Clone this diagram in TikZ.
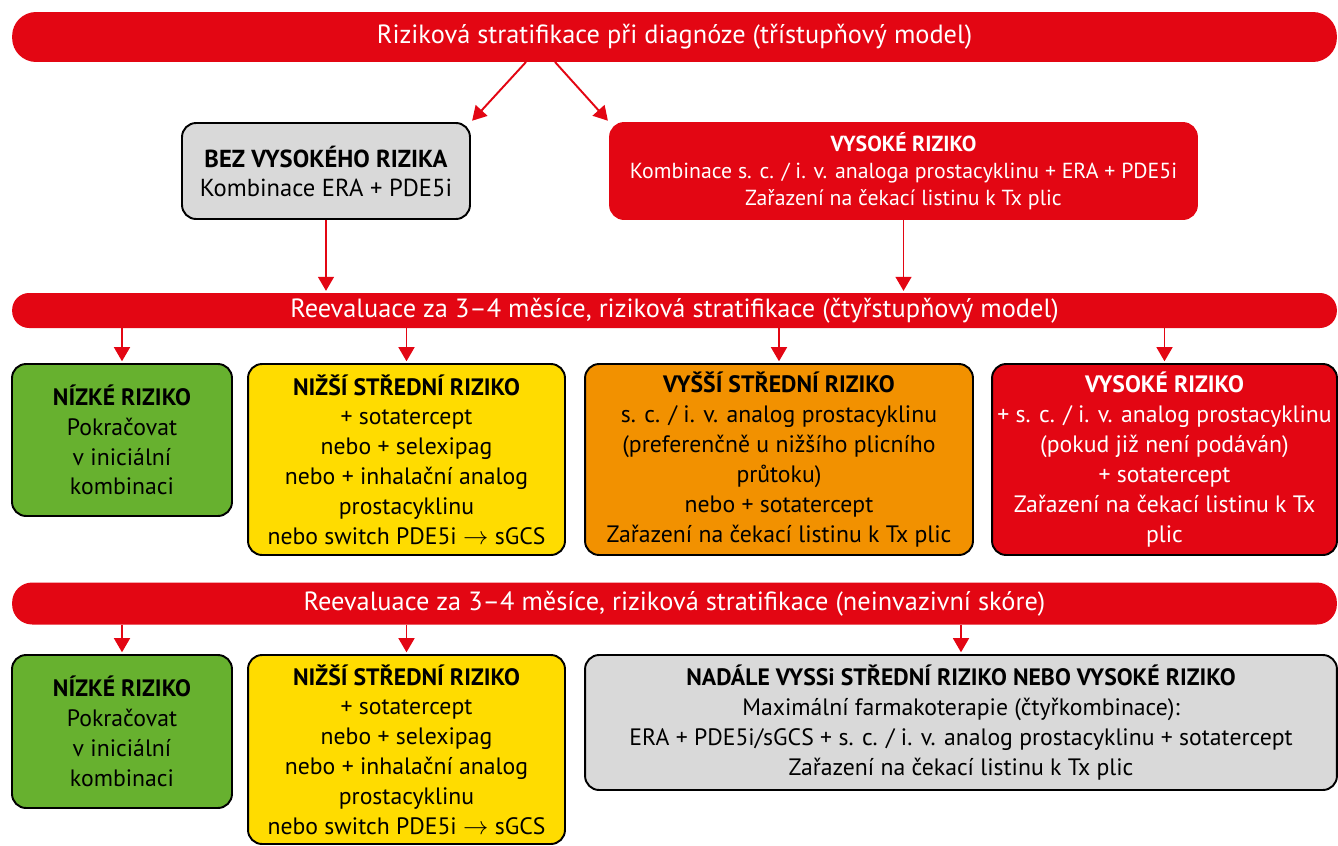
\documentclass[tikz,border=0pt]{standalone}
\usepackage{fontspec}
\setmainfont{PT Sans}
\usetikzlibrary{arrows.meta, positioning, calc}

\definecolor{rred}{HTML}{E30613}
\definecolor{rgreen}{HTML}{67B12F}
\definecolor{ryellow}{HTML}{FFDC00}
\definecolor{rorange}{HTML}{F29100}
\definecolor{rgray}{HTML}{D9D9D9}

\begin{document}
\begin{tikzpicture}[x=0.02cm, y=-0.02cm,
  bar/.style={fill=rred, text=white, inner sep=0pt, minimum width=26.5cm,
    font=\fontsize{15}{18}\selectfont},
  box/.style={draw=black, line width=1.1pt, rounded corners=8pt, align=center,
    inner sep=0pt, font=\fontsize{13.5}{17}\selectfont},
  arr/.style={draw=rred, line width=1.1pt, shorten >=1pt,
    -{Triangle[length=8pt, width=9pt]}}]
\useasboundingbox (0,0) rectangle (1338,845);

% Diagnosis
\node[bar, minimum height=1cm, rounded corners=0.48cm] (diag) at (674.5,37)
  {Riziková stratifikace při diagnóze (třístupňový model)};
\node[box, fill=rgray, minimum width=5.76cm, minimum height=1.92cm,
  font=\fontsize{14}{16.5}\selectfont] (bez) at (326,171)
  {\textbf{BEZ VYSOKÉHO RIZIKA}\\Kombinace ERA + PDE5i};
\node[box, draw=rred, fill=rred, text=white, minimum width=11.74cm, minimum height=1.92cm,
  font=\fontsize{12.4}{15.5}\selectfont] (vys) at (903.5,171)
  {\textbf{VYSOKÉ RIZIKO}\\Kombinace s. c. / i. v. analoga prostacyklinu + ERA + PDE5i\\Zařazení na čekací listinu k Tx plic};

\coordinate (d1) at (526,62);
\coordinate (d2) at (555,62);
\draw[arr] (d1) -- (bez.north east);
\draw[arr] (d2) -- (vys.north west);

% First reevaluation
\node[bar, minimum height=0.7cm, rounded corners=0.34cm] (reev1) at (674.5,310.5)
  {Reevaluace za 3--4 měsíce, riziková stratifikace (čtyřstupňový model)};
\draw[arr] (bez) -- (bez |- reev1.north);
\draw[arr] (vys) -- (vys |- reev1.north);

\node[box, fill=rgreen, minimum width=4.4cm, minimum height=3.04cm] (nizke1) at (122,440)
  {\textbf{NÍZKÉ RIZIKO}\\Pokračovat\\v iniciální\\kombinaci};
\node[box, fill=ryellow, minimum width=6.34cm, minimum height=3.82cm] (nizsi1) at (406.5,459.5)
  {\textbf{NIŽŠÍ STŘEDNÍ RIZIKO}\\+ sotatercept\\nebo + selexipag\\nebo + inhalační analog\\prostacyklinu\\nebo switch PDE5i $\rightarrow$ sGCS};
\node[box, fill=rorange, minimum width=7.76cm, minimum height=3.82cm] (vyssi1) at (779,459.5)
  {\textbf{VYŠŠÍ STŘEDNÍ RIZIKO}\\s. c. / i. v. analog prostacyklinu\\(preferenčně u nižšího plicního\\průtoku)\\nebo + sotatercept\\Zařazení na čekací listinu k Tx plic};
\node[box, fill=rred, text=white, minimum width=6.9cm, minimum height=3.82cm] (vysoke1) at (1164.5,459.5)
  {\textbf{VYSOKÉ RIZIKO}\\+ s. c. / i. v. analog prostacyklinu\\(pokud již není podáván)\\+ sotatercept\\Zařazení na čekací listinu k Tx\\plic};

\foreach \n in {nizke1, nizsi1, vyssi1, vysoke1}
  \draw[arr] (\n |- reev1.south) -- (\n.north);

% Second reevaluation
\node[bar, minimum height=0.84cm, rounded corners=0.4cm] (reev2) at (674.5,603.5)
  {Reevaluace za 3--4 měsíce, riziková stratifikace (neinvazivní skóre)};

\node[box, fill=rgreen, minimum width=4.4cm, minimum height=3.06cm] (nizke2) at (122,731.5)
  {\textbf{NÍZKÉ RIZIKO}\\Pokračovat\\v iniciální\\kombinaci};
\node[box, fill=ryellow, minimum width=6.34cm, minimum height=3.78cm] (nizsi2) at (406.5,749.5)
  {\textbf{NIŽŠÍ STŘEDNÍ RIZIKO}\\+ sotatercept\\nebo + selexipag\\nebo + inhalační analog\\prostacyklinu\\nebo switch PDE5i $\rightarrow$ sGCS};
\node[box, fill=rgray, minimum width=15.04cm, minimum height=2.7cm] (nadale) at (961,722.5)
  {\textbf{NADÁLE VYSSi STŘEDNÍ RIZIKO NEBO VYSOKÉ RIZIKO}\\Maximální farmakoterapie (čtyřkombinace):\\ERA + PDE5i/sGCS + s. c. / i. v. analog prostacyklinu + sotatercept\\Zařazení na čekací listinu k Tx plic};

\foreach \n in {nizke2, nizsi2, nadale}
  \draw[arr] (\n |- reev2.south) -- (\n.north);
\end{tikzpicture}
\end{document}
